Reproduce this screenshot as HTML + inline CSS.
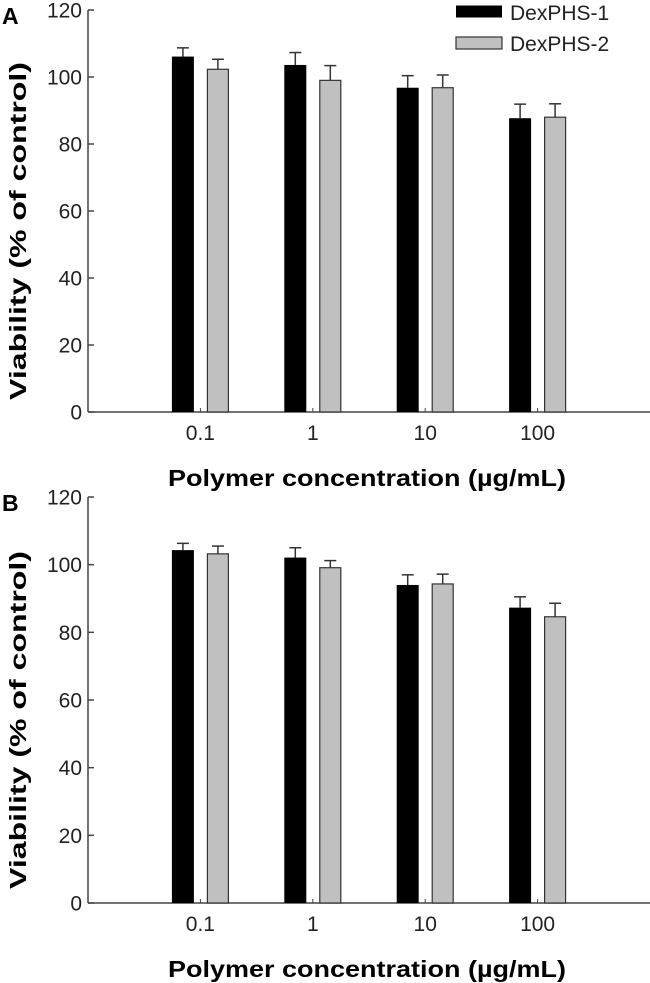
<!DOCTYPE html>
<html><head><meta charset="utf-8"><style>
html,body{margin:0;padding:0;background:#fff;}
svg{display:block;font-family:"Liberation Sans",Arial,sans-serif;}
</style></head><body>
<svg id="chart" width="650" height="983" viewBox="0 0 650 983"></svg>
<script>
const categories = ["0.1", "1", "10", "100"];
const seriesNames = ["DexPHS-1", "DexPHS-2"];
const yTicks = [0, 20, 40, 60, 80, 100, 120];
const panelAMeans1 = [106.1, 103.6, 96.8, 87.7];
const panelAErr1 = [2.6, 3.7, 3.6, 4.2];
const panelAMeans2 = [102.3, 99.0, 96.8, 88.0];
const panelAErr2 = [3.0, 4.4, 3.8, 4.0];
const panelBMeans1 = [104.3, 102.1, 94.0, 87.3];
const panelBErr1 = [2.0, 2.9, 3.0, 3.2];
const panelBMeans2 = [103.2, 99.1, 94.3, 84.6];
const panelBErr2 = [2.3, 2.1, 2.9, 4.0];

const NS = "http://www.w3.org/2000/svg";
const svg = document.getElementById("chart");
function mk(tag, attrs, parent, text){
  const e = document.createElementNS(NS, tag);
  for (const k in attrs) e.setAttribute(k, attrs[k]);
  if (text !== undefined) e.textContent = text;
  (parent || svg).appendChild(e);
  return e;
}

function panel(letter, top, base, means1, err1, means2, err2, showLegend){
  const g = mk("g", {});
  
  
  const x0 = 88, x1 = 650;
  const y = v => base - (v / 120) * (base - top);
  const xc = i => x0 + (i + 1) * (x1 - x0) / 5;

  const lt = mk("text", {x: 2, y: top + 14, "font-size": 23, "font-weight": "bold"}, g, letter);
  
  

  const ya = mk("line", {x1: x0, y1: top, x2: x0, y2: base, stroke: "#444", "stroke-width": 1.5}, g);
  
  
  const xa = mk("line", {x1: x0, y1: base, x2: x1, y2: base, stroke: "#444", "stroke-width": 1.5}, g);
  
  

  yTicks.forEach(t => {
    const tk = mk("line", {x1: x0, y1: y(t), x2: x0 + 6, y2: y(t), stroke: "#444", "stroke-width": 1.5}, g);
    
    
    const tl = mk("text", {x: 82, y: y(t) + 7.5, "font-size": 21, "text-anchor": "end", fill: "#222"}, g, String(t));
    
    
  });

  categories.forEach((c, i) => {
    const cx = xc(i);
    const tk = mk("line", {x1: cx, y1: base, x2: cx, y2: base - 4, stroke: "#444", "stroke-width": 1}, g);
    
    
    const tl = mk("text", {x: cx, y: base + 28, "font-size": 21, "text-anchor": "middle", fill: "#222"}, g, c);
    
    

    [[means1[i], err1[i], cx - 17.5], [means2[i], err2[i], cx + 17.5]].forEach(([m, e, ex]) => {
      const el = mk("line", {x1: ex, y1: y(m), x2: ex, y2: y(m + e), stroke: "#333", "stroke-width": 1.5}, g);
      
      
      const cap = mk("line", {x1: ex - 6, y1: y(m + e), x2: ex + 6, y2: y(m + e), stroke: "#333", "stroke-width": 1.5}, g);
      
      
    });

    const b1 = mk("rect", {x: cx - 28.5, y: y(means1[i]), width: 22, height: base - y(means1[i]), fill: "#000"}, g);
    
    
    const b2 = mk("rect", {x: cx + 7, y: y(means2[i]), width: 21, height: base - y(means2[i]), fill: "#c0c0c0", stroke: "#333", "stroke-width": 1.2}, g);
    
    
  });

  const yl = mk("text", {x: 0, y: 0, "font-size": 23, "font-weight": "bold", "text-anchor": "middle",
    transform: "translate(26," + ((top + base) / 2 + 20) + ") rotate(-90)", textLength: 338, lengthAdjust: "spacingAndGlyphs"}, g, "Viability (% of control)");
  
  

  const xl = mk("text", {x: 367, y: base + 74, "font-size": 23, "font-weight": "bold", "text-anchor": "middle",
    textLength: 398, lengthAdjust: "spacingAndGlyphs"}, g, "Polymer concentration (\u00b5g/mL)");
  
  

  if (showLegend){
    const lg = mk("g", {}, g);
    
    
    const r1 = mk("rect", {x: 456, y: 5.5, width: 46, height: 12, fill: "#000"}, lg);
    
    
    const t1 = mk("text", {x: 510, y: 20, "font-size": 21, fill: "#222"}, lg, seriesNames[0]);
    
    
    const r2 = mk("rect", {x: 456, y: 37, width: 46, height: 12, fill: "#c0c0c0", stroke: "#333", "stroke-width": 1.2}, lg);
    
    
    const t2 = mk("text", {x: 510, y: 51, "font-size": 21, fill: "#222"}, lg, seriesNames[1]);
    
    
  }
}

panel("A", 10, 412, panelAMeans1, panelAErr1, panelAMeans2, panelAErr2, true);
panel("B", 497, 903, panelBMeans1, panelBErr1, panelBMeans2, panelBErr2, false);
</script>
</body></html>
